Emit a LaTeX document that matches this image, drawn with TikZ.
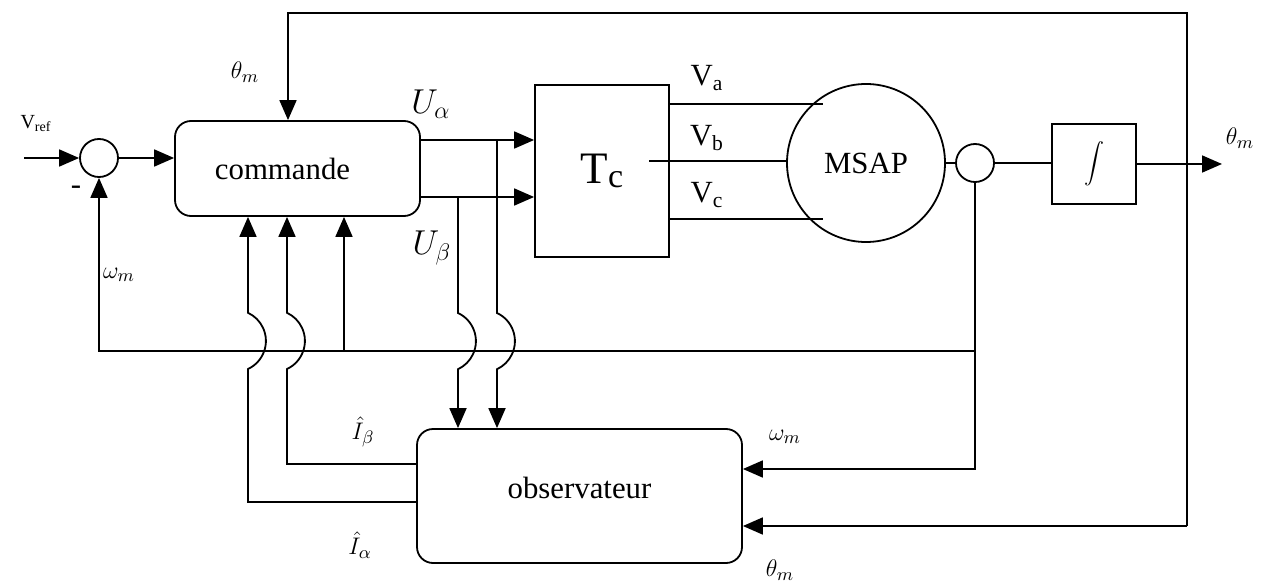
\documentclass[tikz,border=0pt]{standalone}
\usepackage{fontspec}
\setmainfont{Liberation Serif}
\usetikzlibrary{arrows.meta}

\begin{document}
\begin{tikzpicture}[
  x=0.5pt, y=-0.5pt, line width=0.9pt,
  font=\fontsize{15.4}{18}\selectfont,
  arr/.style={-{Triangle[length=10pt,width=8.5pt]}},
  blk/.style={draw, rectangle, inner sep=0pt},
  rblk/.style={blk, rounded corners=8pt},
  sumc/.style={draw, circle, inner sep=0pt, minimum size=19pt},
  lab/.style={inner sep=0pt},
  sig/.style={lab, font=\fontsize{13}{15}\selectfont},
  big/.style={lab, font=\fontsize{18.5}{21}\selectfont}]

  \def\hopt{313}   % top of the line hops
  \def\hopb{369}   % bottom of the line hops

  \useasboundingbox (0,0) rectangle (1262,588);

  % ---- blocks ------------------------------------------------------------
  \node[sumc] (sum) at (99,158) {};
  \node[rblk, minimum width=122.5pt, minimum height=47.5pt] (cmd) at (297.5,168.5)
    {commande\hspace*{15pt}};
  \node[blk, minimum width=67pt, minimum height=86pt] (tc) at (602,171)
    {\raisebox{-4.5pt}{{\fontsize{22.5}{24}\selectfont T}\raisebox{-2pt}{\fontsize{17}{20}\selectfont c}}};
  \node[sumc, minimum size=79pt] (msap) at (866,163) {MSAP};
  \node[sumc] (meas) at (975,163) {};
  \node[blk, minimum width=42pt, minimum height=40pt] (integ) at (1094,164)
    {\fontsize{13.5}{15}\selectfont$\displaystyle\int$};
  \node[rblk, minimum width=162.5pt, minimum height=67pt] (obs) at (579.5,496)
    {\raisebox{8pt}{observateur}};

  % ---- points ------------------------------------------------------------
  \coordinate (vin)   at (24,158);
  \coordinate (ua)    at (497,140);
  \coordinate (ub)    at (458,197);
  \coordinate (va)    at (823,104);
  \coordinate (vb)    at (649,161);
  \coordinate (vc)    at (823,219);
  \coordinate (thout) at (1222,164);
  \coordinate (thtop) at (288,13);
  \coordinate (rbot)  at (1187,526);
  \coordinate (wj)    at (975,351);
  \coordinate (wobs)  at (975,469);
  \coordinate (wb)    at (344,351);
  \coordinate (ib)    at (287,464);
  \coordinate (ia)    at (248,502);

  % ---- forward path ------------------------------------------------------
  \draw[arr] (vin) -- (sum.west);
  \draw[arr] (sum.east) -- (sum.east -| cmd.west);
  \draw[arr] (ua -| cmd.east) -- (ua -| tc.west);
  \draw[arr] (ub -| cmd.east) -- (ub -| tc.west);
  \draw (va -| tc.east) -- (va);
  \draw (vb) -- (vb -| msap.west);
  \draw (vc -| tc.east) -- (vc);
  \draw (msap.east) -- (meas.west);
  \draw (meas.east) -- (meas.east -| integ.west);
  \draw[arr] (integ.east) -- (thout);

  % ---- position feedback -------------------------------------------------
  \draw[arr] (rbot) |- (thtop) -- (thtop |- cmd.north);
  \draw[arr] (rbot) -- (rbot -| obs.east);

  % ---- speed feedback ----------------------------------------------------
  \draw (meas.south) -- (wj);
  \draw[arr] (wj) -- (wobs) -- (wobs -| obs.east);
  \draw[arr] (wj) -| (sum.south);
  \draw[arr] (wb) -- (wb |- cmd.south);

  % ---- observer links, hopping over the speed line -----------------------
  \draw[arr] (ua) -- (ua |- 0,\hopt) arc[start angle=65, end angle=-65, radius=15.5pt]
    -- (ua |- obs.north);
  \draw[arr] (ub) -- (ub |- 0,\hopt) arc[start angle=65, end angle=-65, radius=15.5pt]
    -- (ub |- obs.north);
  \draw[arr] (ib -| obs.west) -- (ib) -- (ib |- 0,\hopb)
    arc[start angle=-65, end angle=65, radius=15.5pt] -- (ib |- cmd.south);
  \draw[arr] (ia -| obs.west) -- (ia) -- (ia |- 0,\hopb)
    arc[start angle=-65, end angle=65, radius=15.5pt] -- (ia |- cmd.south);

  % ---- labels ------------------------------------------------------------
  \node[lab, font=\fontsize{10}{11}\selectfont] (vreflab) at (36,124) {V\textsubscript{ref}};
  \node[lab] (minus) at (76,190) {-};
  \node[sig] (thclab) at (245,72) {$\theta_m$};
  \node[big] (ualab) at (431,104) {$U_\alpha$};
  \node[big] (ublab) at (432,248) {$U_\beta$};
  \node[lab] (valab) at (707,78) {V\textsubscript{a}};
  \node[lab] (vblab) at (707,138) {V\textsubscript{b}};
  \node[lab] (vclab) at (707,195) {V\textsubscript{c}};
  \node[sig] (thrlab) at (1240,138) {$\theta_m$};
  \node[sig] (wclab) at (119,275) {$\omega_m$};
  \node[sig] (iblab) at (363,432) {$\hat I_\beta$};
  \node[sig] (ialab) at (360,545) {$\hat I_\alpha$};
  \node[sig] (wolab) at (785,437) {$\omega_m$};
  \node[sig] (tholab) at (780,570) {$\theta_m$};
\end{tikzpicture}
\end{document}
